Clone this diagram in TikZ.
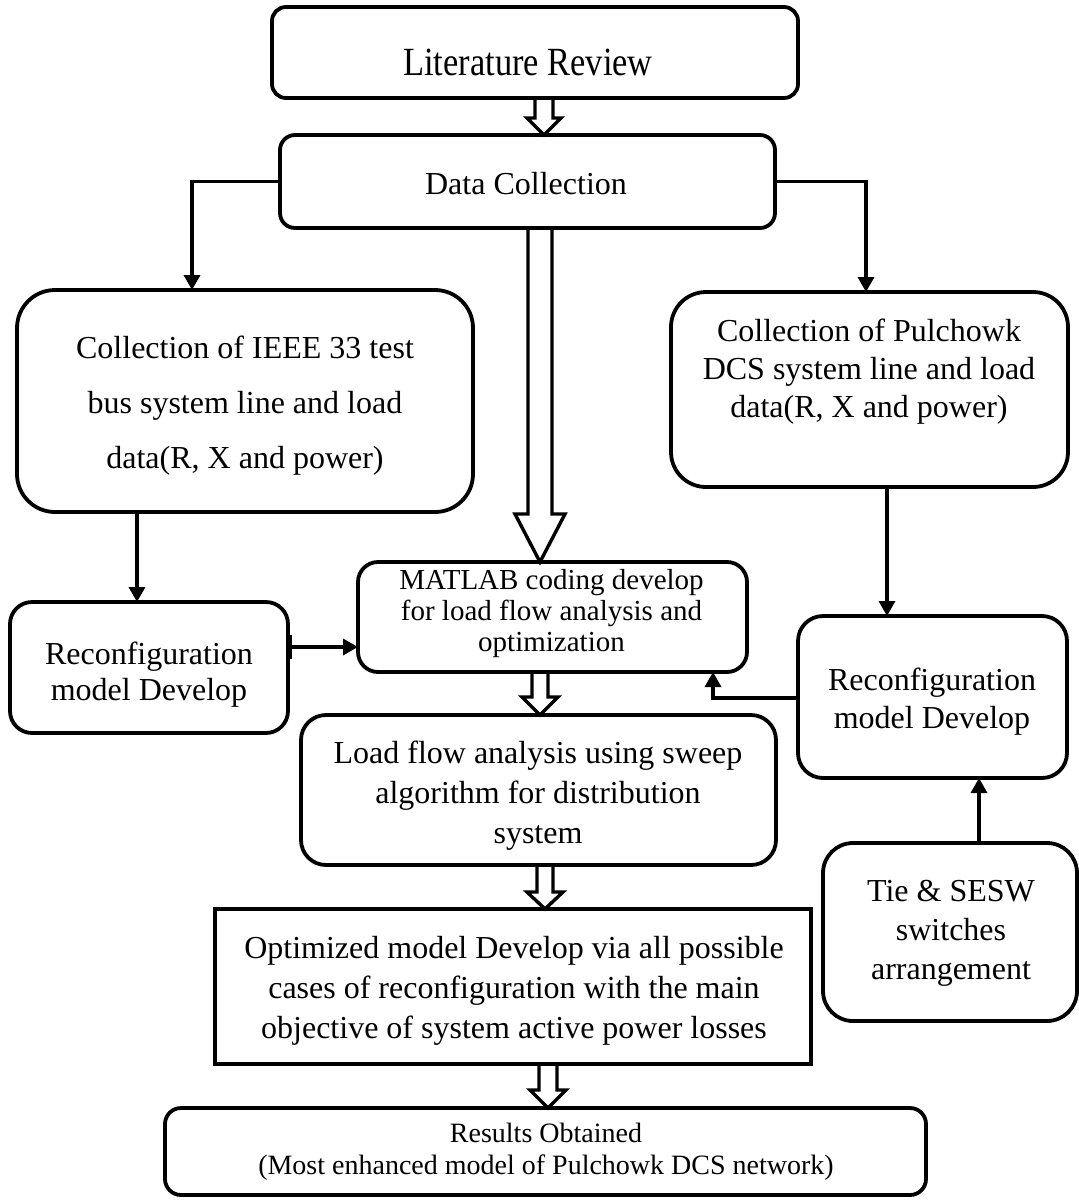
\documentclass[tikz,border=0pt]{standalone}
\usepackage{fontspec}
\setmainfont{Liberation Serif}
\usetikzlibrary{arrows.meta,calc}
\tikzset{
  box/.style={draw, line width=3.8pt, inner sep=0pt, outer sep=0pt},
  rbox/.style={box, rounded corners=#1},
  txt/.style={align=center, inner sep=0pt, font=\fontsize{32}{#1}\selectfont},
  conn/.style={line width=3.4pt, -{Triangle[length=15pt,width=16pt]}},
  hollow/.style={line width=3.4pt, line join=miter},
}
% hollow block arrow pointing down: x, from point, to point, shaft half width, head half width, head length
\newcommand\hollowdown[6]{%
  \draw[hollow] let \p1=(#1,0 |- #2), \p2=(#1,0 |- #3) in
    (\x1-#4pt,\y1) -- (\x1-#4pt,\y2+#6pt) -- (\x1-#5pt,\y2+#6pt) -- (\x1,\y2)
    -- (\x1+#5pt,\y2+#6pt) -- (\x1+#4pt,\y2+#6pt) -- (\x1+#4pt,\y1);}
\begin{document}
\begin{tikzpicture}[x=1pt,y=-1pt]
\useasboundingbox (0,0) rectangle (1079,1200);

% boxes
\node[rbox=14pt, minimum width=526pt, minimum height=91pt] (lit) at (535,52.5) {};
\node[rbox=15pt, minimum width=495pt, minimum height=93pt] (data) at (527.5,181.5) {};
\node[rbox=38pt, minimum width=456pt, minimum height=222pt] (ieee) at (245,401) {};
\node[rbox=35pt, minimum width=397pt, minimum height=195pt] (pul) at (869.5,389.5) {};
\node[rbox=20pt, minimum width=389pt, minimum height=110pt] (matlab) at (552.5,617) {};
\node[rbox=22pt, minimum width=278pt, minimum height=131pt] (recL) at (149,667.5) {};
\node[rbox=25pt, minimum width=269pt, minimum height=162pt] (recR) at (932.5,697) {};
\node[rbox=25pt, minimum width=475pt, minimum height=150pt] (load) at (538.5,790) {};
\node[box, minimum width=596pt, minimum height=155pt] (opt) at (513,986.5) {};
\node[rbox=30pt, minimum width=254pt, minimum height=178pt] (tie) at (950,932) {};
\node[rbox=16pt, minimum width=761pt, minimum height=87pt] (res) at (545.5,1151.5) {};

% texts
\node[inner sep=0pt] (litT) at (528,62)
  {\scalebox{0.86}[1]{\fontsize{40}{44}\selectfont Literature Review}};
\node[txt=37] (dataT) at (526,184) {Data Collection};
\node[txt=55] (ieeeT) at (245,405.5)
  {Collection of IEEE 33 test\\bus system line and load\\data(R, X and power)};
\node[txt=38] (pulT) at (869,372)
  {Collection of Pulchowk\\DCS system line and load\\data(R, X and power)};
\node[align=center, inner sep=0pt, font=\fontsize{29}{31}\selectfont] (matT) at (551.5,614)
  {MATLAB coding develop\\for load flow analysis and\\optimization};
\node[txt=36] (recLT) at (149,675) {Reconfiguration\\model Develop};
\node[txt=38] (recRT) at (932,701.5) {Reconfiguration\\model Develop};
\node[txt=40] (loadT) at (538,796)
  {Load flow analysis using sweep\\algorithm for distribution\\system};
\node[txt=40] (optT) at (514,991)
  {Optimized model Develop via all possible\\cases of reconfiguration with the main\\objective of system active power losses};
\node[txt=39] (tieT) at (951,933) {Tie \& SESW\\switches\\arrangement};
\node[align=center, inner sep=0pt, font=\fontsize{28}{32}\selectfont] (resT) at (546,1152)
  {Results Obtained\\(Most enhanced model of Pulchowk DCS network)};

% connectors
\draw[conn] (data.west) -| (192,0 |- ieee.north);
\draw[conn] (data.east) -| (866,0 |- pul.north);
\draw[conn] (137,0 |- ieee.south) -- (137,0 |- recL.north);
\draw[line width=3.4pt, {Bar[width=24pt,line width=4pt]}-{Triangle[length=15pt,width=16pt]}]
  (recL.east |- 0,647) -- (matlab.west |- 0,647);
\draw[conn] (887,0 |- pul.south) -- (887,0 |- recR.north);
\draw[conn] (recR.west |- 0,698) -| (713,0 |- matlab.south);
\draw[conn] (979,0 |- tie.north) -- (979,0 |- recR.south);

% block arrows
\hollowdown{544}{lit.south}{data.north}{9}{17}{17}
\hollowdown{540}{data.south}{matlab.north}{12}{25}{48}
\hollowdown{540}{matlab.south}{load.north}{8}{18}{18}
\hollowdown{545}{load.south}{opt.north}{8}{18}{17}
\hollowdown{548}{opt.south}{res.north}{9}{18}{18}
\end{tikzpicture}
\end{document}
